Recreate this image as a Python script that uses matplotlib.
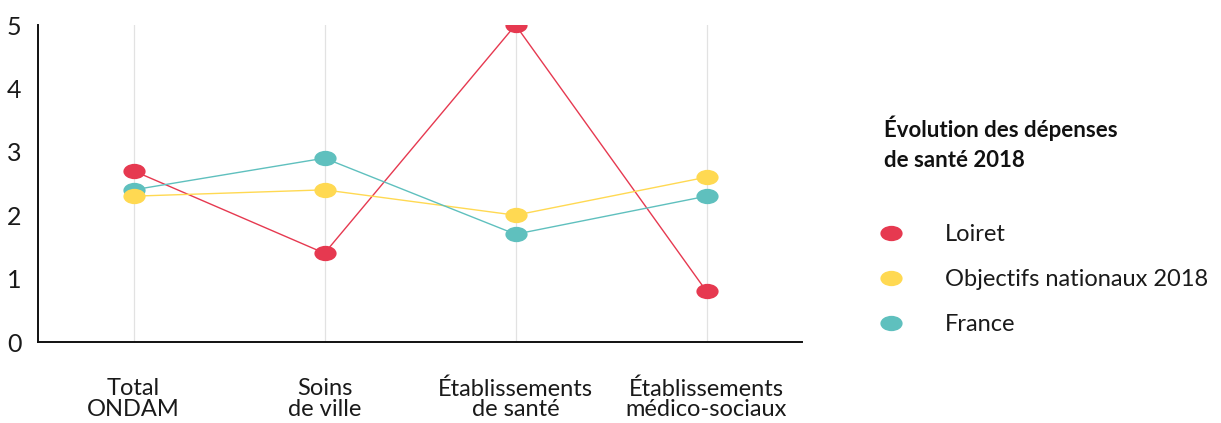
import matplotlib
matplotlib.use("Agg")
import matplotlib.pyplot as plt
from matplotlib.path import Path
from matplotlib.transforms import Affine2D
from matplotlib.lines import Line2D

categories = ["Total\nONDAM", "Soins\nde ville", "Établissements\nde santé", "Établissements\nmédico-sociaux"]
series_names = ["Loiret", "Objectifs nationaux 2018", "France"]
loiret = [2.7, 1.4, 5.0, 0.8]
objectifs = [2.3, 2.4, 2.0, 2.6]
france = [2.4, 2.9, 1.7, 2.3]
yticks = [0, 1, 2, 3, 4, 5]
title = "Évolution des dépenses\nde santé 2018"

colors = ["#E63950", "#FFD952", "#5FC0BE"]
txt = '#1a1a1a'

plt.rcParams['font.family'] = ['Lato', 'DejaVu Sans']

ellipse = Path.unit_circle().transformed(Affine2D().scale(1.45, 1.0))

fig = plt.figure(figsize=(12.21, 4.23), dpi=100)
ax = fig.add_axes([38/1221, 1-342/423, (802-38)/1221, (342-25)/423])

x = list(range(len(categories)))
for i in x:
    ax.plot([i, i], [0, 5], color="#E2E2E2", lw=0.9, zorder=0)

for vals, ci in [(loiret, 0), (objectifs, 1), (france, 2)]:
    ax.plot(x, vals, color=colors[ci], lw=1.0, zorder=2)
for vals, ci in [(loiret, 0), (france, 2), (objectifs, 1)]:
    ax.plot(x, vals, ls='none', marker=ellipse, markersize=16, color=colors[ci],
            markeredgewidth=0, zorder=3)

ax.set_xlim(-0.5, 3.5)
ax.set_ylim(0, 5)
ax.set_xticks(x)
ax.set_xticklabels(categories, fontsize=17, fontweight='normal', linespacing=0.98, color=txt)
ax.set_yticks(yticks)
ax.set_yticklabels([str(t) for t in yticks], fontsize=18, fontweight='normal', color=txt)
ax.tick_params(axis='both', length=0)
ax.tick_params(axis='x', pad=26)
ax.tick_params(axis='y', pad=12)
for s in ['top', 'right']:
    ax.spines[s].set_visible(False)
for s in ['left', 'bottom']:
    ax.spines[s].set_linewidth(1.4)
    ax.spines[s].set_color('#111111')

fig.text(884/1221, 1-115/423, title, fontsize=16, fontweight='bold', va='top', ha='left',
         linespacing=1.55, color='#111111')

handles = [Line2D([], [], ls='none', marker=ellipse, markersize=16, color=c, markeredgewidth=0)
           for c in colors]
leg = fig.legend(handles, series_names, loc='upper left', bbox_to_anchor=(872/1221, 1-224/423),
           frameon=False, prop={'weight': 'normal', 'size': 17},
           labelspacing=1.02, handletextpad=1.5, handlelength=1.6, borderaxespad=0, borderpad=0)
for t in leg.get_texts():
    t.set_color(txt)

fig.savefig("out.png", dpi=100)
